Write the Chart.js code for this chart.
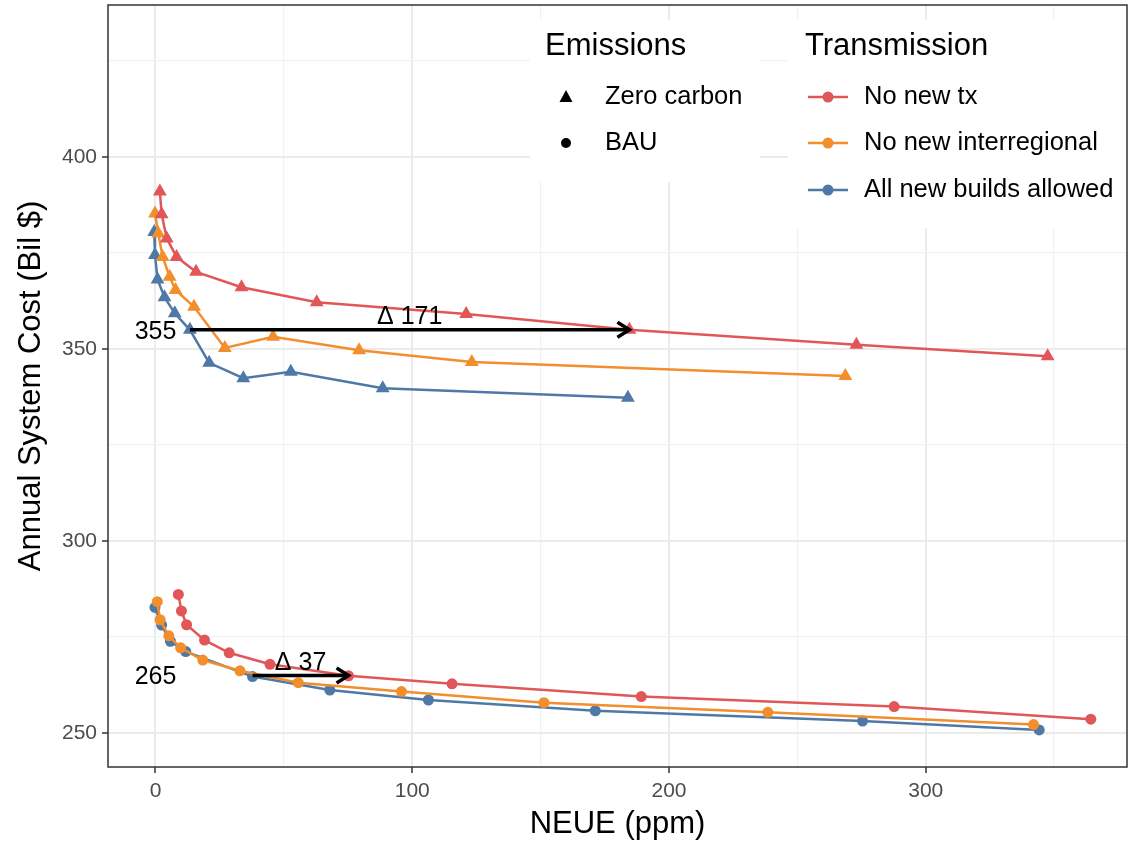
<!DOCTYPE html>
<html>
<head>
<meta charset="utf-8">
<script src="https://cdn.jsdelivr.net/npm/chart.js@4.4.1/dist/chart.umd.min.js"></script>
<style>
  html, body { margin: 0; padding: 0; background: #fff; }
  #wrap { width: 1128px; height: 842px; }
</style>
</head>
<body>
<div id="wrap"><canvas id="c" width="1128" height="842"></canvas></div>
<script>
// series values (NEUE ppm, annual cost Bil $)
const zcRedX = [1.7, 2.4, 4.4, 8.2, 15.8, 33.5, 62.8, 121, 184.6, 273, 347.5];
const zcRedY = [391, 385.1, 378.8, 374.0, 370.1, 366.1, 362.2, 359.1, 355.0, 351.1, 348.1];
const zcOrangeX = [-0.2, 1.1, 2.8, 5.5, 7.8, 15, 27.0, 45.8, 79.3, 123.2, 268.7];
const zcOrangeY = [385.3, 380.1, 374.0, 368.8, 365.4, 361.0, 350.3, 353.2, 349.7, 346.6, 343.0];
const zcBlueX = [-0.5, -0.2, 0.8, 3.5, 7.5, 13.4, 20.9, 34.2, 52.7, 88.5, 184];
const zcBlueY = [380.5, 374.5, 368.1, 363.5, 359.3, 355.0, 346.4, 342.4, 344.1, 339.8, 337.3];

const bauRedX = [8.9, 10.1, 12.1, 19.1, 28.7, 44.6, 75.2, 115.5, 189.2, 287.7, 364.3];
const bauRedY = [286.1, 281.8, 278.2, 274.2, 270.9, 267.9, 264.9, 262.8, 259.5, 256.9, 253.6];
const bauOrangeX = [0.7, 1.8, 5.2, 9.8, 18.4, 32.9, 55.6, 95.8, 151.3, 238.5, 342];
const bauOrangeY = [284.2, 279.5, 275.3, 272.2, 269.0, 266.2, 263.1, 260.8, 257.9, 255.4, 252.2];
const bauBlueX = [-0.2, 2.4, 5.8, 11.8, 37.8, 67.9, 106.3, 171.3, 275.4, 344.2];
const bauBlueY = [282.7, 278.1, 273.9, 271.2, 264.7, 261.2, 258.6, 255.8, 253.1, 250.8];

// annotations: arrow from x0 to x1 at cost y
const arrowX0 = [13.4, 37.8];
const arrowX1 = [184.6, 75.2];
const arrowY = [355, 265];
const arrowText = ['Δ 171', 'Δ 37'];
const costText = ['355', '265'];

// axes
const xTicks = [0, 50, 100, 150, 200, 250, 300, 350];
const yTicks = [250, 275, 300, 325, 350, 375, 400, 425];
const xMajor = [0, 100, 200, 300];
const yMajor = [250, 300, 350, 400];

const emissionsLabels = ['Zero carbon', 'BAU'];
const transmissionLabels = ['No new tx', 'No new interregional', 'All new builds allowed'];
const colors = ['#E15759', '#F28E2B', '#4E79A7'];

const FONT = '"Liberation Sans", Arial, sans-serif';

function pts(xs, ys) {
  return xs.map((x, i) => ({ x: x, y: ys[i] }));
}

function series(xs, ys, color, shape) {
  return {
    data: pts(xs, ys),
    showLine: true,
    borderColor: color,
    backgroundColor: color,
    borderWidth: 2.5,
    pointStyle: shape,
    pointRadius: shape === 'triangle' ? 8 : 5.5,
    pointBorderWidth: 0,
    pointHoverRadius: 0,
    tension: 0
  };
}

const panelPlugin = {
  id: 'panel',
  afterDatasetsDraw(chart) {
    const ctx = chart.ctx;
    const a = chart.chartArea;
    const xs = chart.scales.x, ys = chart.scales.y;
    ctx.save();

    // arrows
    ctx.strokeStyle = '#000';
    ctx.fillStyle = '#000';
    ctx.lineWidth = 3.5;
    for (let i = 0; i < arrowY.length; i++) {
      const x0 = xs.getPixelForValue(arrowX0[i]);
      const x1 = xs.getPixelForValue(arrowX1[i]);
      const y = ys.getPixelForValue(arrowY[i]);
      ctx.beginPath();
      ctx.moveTo(x0, y);
      ctx.lineTo(x1, y);
      ctx.stroke();
      ctx.beginPath();
      ctx.moveTo(x1 - 12, y - 7.5);
      ctx.lineTo(x1, y);
      ctx.lineTo(x1 - 12, y + 7.5);
      ctx.stroke();

      ctx.font = '25px ' + FONT;
      ctx.textAlign = 'center';
      ctx.textBaseline = 'middle';
      ctx.fillText(arrowText[i], xs.getPixelForValue((arrowX0[i] + arrowX1[i]) / 2), ys.getPixelForValue(arrowY[i] + 3.2));
      ctx.fillText(costText[i], xs.getPixelForValue(0), y + 2);
    }

    // panel border
    ctx.strokeStyle = '#333';
    ctx.lineWidth = 1.5;
    ctx.strokeRect(a.left, a.top, a.right - a.left, a.bottom - a.top);

    // legend boxes
    ctx.fillStyle = '#fff';
    ctx.fillRect(530, 20, 230, 162);
    ctx.fillRect(788, 20, a.right - 788 - 1, 208);

    ctx.fillStyle = '#000';
    ctx.textAlign = 'left';
    ctx.textBaseline = 'middle';
    ctx.font = '31px ' + FONT;
    ctx.fillText('Emissions', 545, 46);
    ctx.fillText('Transmission', 805, 46);

    ctx.font = '25.5px ' + FONT;
    const rowY = [97, 143, 190];
    // emissions keys
    ctx.beginPath();
    ctx.moveTo(566, rowY[0] - 7);
    ctx.lineTo(572.5, rowY[0] + 5);
    ctx.lineTo(559.5, rowY[0] + 5);
    ctx.closePath();
    ctx.fill();
    ctx.beginPath();
    ctx.arc(566, rowY[1], 5, 0, Math.PI * 2);
    ctx.fill();
    emissionsLabels.forEach((t, i) => ctx.fillText(t, 605, rowY[i]));

    // transmission keys
    transmissionLabels.forEach((t, i) => {
      ctx.strokeStyle = colors[i];
      ctx.fillStyle = colors[i];
      ctx.lineWidth = 2.5;
      ctx.beginPath();
      ctx.moveTo(808, rowY[i]);
      ctx.lineTo(848, rowY[i]);
      ctx.stroke();
      ctx.beginPath();
      ctx.arc(828, rowY[i], 5.5, 0, Math.PI * 2);
      ctx.fill();
      ctx.fillStyle = '#000';
      ctx.fillText(t, 864, rowY[i]);
    });
    ctx.restore();
  }
};

new Chart(document.getElementById('c'), {
  type: 'scatter',
  data: {
    datasets: [
      series(zcRedX, zcRedY, colors[0], 'triangle'),
      series(zcOrangeX, zcOrangeY, colors[1], 'triangle'),
      series(zcBlueX, zcBlueY, colors[2], 'triangle'),
      series(bauRedX, bauRedY, colors[0], 'circle'),
      series(bauOrangeX, bauOrangeY, colors[1], 'circle'),
      series(bauBlueX, bauBlueY, colors[2], 'circle')
    ]
  },
  options: {
    responsive: false,
    animation: false,
    events: [],
    layout: { autoPadding: false, padding: { top: 5, right: 1, left: 0, bottom: 0 } },
    plugins: { legend: { display: false }, tooltip: { enabled: false } },
    scales: {
      x: {
        type: 'linear',
        min: -18.5,
        max: 378.4,
        afterBuildTicks: s => { s.ticks = xTicks.map(v => ({ value: v })); },
        afterFit: s => { s.height = 75; s.paddingLeft = 0; s.paddingRight = 0; },
        border: { display: false },
        grid: {
          color: c => xMajor.includes(c.tick.value) ? '#EBEBEB' : '#F2F2F2',
          lineWidth: c => xMajor.includes(c.tick.value) ? 2 : 1.2,
          tickColor: c => xMajor.includes(c.tick.value) ? '#333' : 'rgba(0,0,0,0)',
          tickLength: 6,
          tickWidth: 1.5
        },
        ticks: {
          autoSkip: false,
          maxRotation: 0,
          padding: 6,
          color: '#4D4D4D',
          font: { family: FONT, size: 21 },
          callback: v => xMajor.includes(v) ? String(v) : ''
        },
        title: {
          display: true,
          text: 'NEUE (ppm)',
          color: '#000',
          font: { family: FONT, size: 31, lineHeight: 1.1 },
          padding: { top: 0, bottom: 0 }
        }
      },
      y: {
        type: 'linear',
        min: 241.15,
        max: 439.6,
        afterBuildTicks: s => { s.ticks = yTicks.map(v => ({ value: v })); },
        afterFit: s => { s.width = 108; s.paddingTop = 0; s.paddingBottom = 0; },
        border: { display: false },
        grid: {
          color: c => yMajor.includes(c.tick.value) ? '#EBEBEB' : '#F2F2F2',
          lineWidth: c => yMajor.includes(c.tick.value) ? 2 : 1.2,
          tickColor: c => yMajor.includes(c.tick.value) ? '#333' : 'rgba(0,0,0,0)',
          tickLength: 6,
          tickWidth: 1.5
        },
        ticks: {
          autoSkip: false,
          padding: 5,
          color: '#4D4D4D',
          font: { family: FONT, size: 21 },
          callback: v => yMajor.includes(v) ? String(v) : ''
        },
        title: {
          display: true,
          text: 'Annual System Cost (Bil $)',
          color: '#000',
          font: { family: FONT, size: 31, lineHeight: 1.1 },
          padding: { top: 14, bottom: 0 }
        }
      }
    }
  },
  plugins: [panelPlugin]
});
</script>
</body>
</html>
